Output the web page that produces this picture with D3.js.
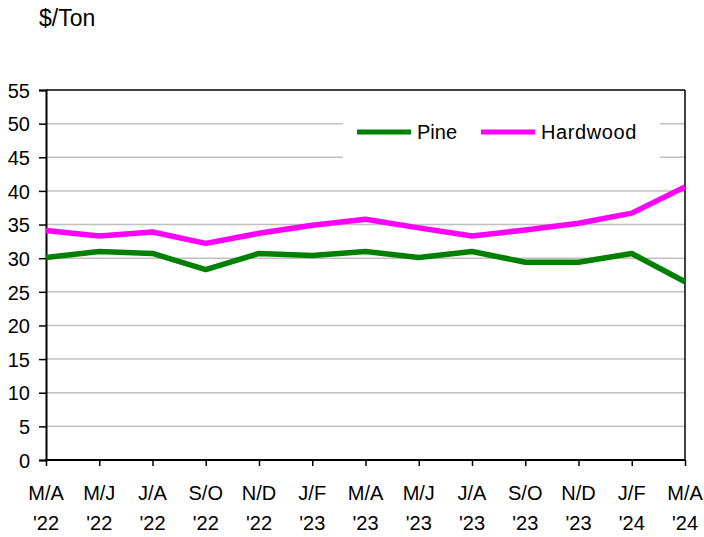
<!DOCTYPE html>
<html><head><meta charset="utf-8">
<script src="https://cdn.jsdelivr.net/npm/d3@7"></script>
<style>body{margin:0;background:#fff}text{font-family:"Liberation Sans",Arial,sans-serif;fill:#000}</style>
</head><body>
<svg id="c" width="704" height="537"></svg>
<script>
const periods = ["M/A","M/J","J/A","S/O","N/D","J/F","M/A","M/J","J/A","S/O","N/D","J/F","M/A"];
const years = ["'22","'22","'22","'22","'22","'23","'23","'23","'23","'23","'23","'24","'24"];
const pine = [30.1, 31.0, 30.7, 28.3, 30.7, 30.4, 31.0, 30.1, 31.0, 29.4, 29.4, 30.7, 26.5];
const hardwood = [34.1, 33.3, 33.9, 32.2, 33.7, 34.9, 35.8, 34.5, 33.3, 34.2, 35.2, 36.7, 40.6];
const yTicks = [0,5,10,15,20,25,30,35,40,45,50,55];
const seriesNames = ["Pine","Hardwood"];
const seriesColors = ["#008000","#ff00ff"];

const svg = d3.select("#c");
const L=46, R=685, T=90, B=460;
const x = d3.scalePoint().domain(d3.range(periods.length)).range([L,R]);
const y = d3.scaleLinear().domain([0,55]).range([B,T]);

svg.append("g").selectAll("line").data(yTicks.filter(d=>d>0&&d<55)).join("line")
  .attr("x1",L).attr("x2",R).attr("y1",d=>y(d)).attr("y2",d=>y(d))
  .attr("stroke","#c0c0c0").attr("stroke-width",1.5);

svg.append("rect").attr("x",343).attr("y",112).attr("width",317).attr("height",50).attr("fill","#fff");

svg.append("line").attr("x1",L).attr("x2",R).attr("y1",T).attr("y2",T).attr("stroke","#000").attr("stroke-width",1.5);
svg.append("line").attr("x1",R).attr("x2",R).attr("y1",T).attr("y2",B).attr("stroke","#000").attr("stroke-width",1.5);

const ya = svg.append("g").attr("transform",`translate(${L},0)`)
  .call(d3.axisLeft(y).tickValues(yTicks).tickSize(7).tickPadding(9));
ya.select(".domain").attr("stroke","#000").attr("stroke-width",2);
ya.selectAll(".tick line").attr("stroke","#000").attr("stroke-width",1.5);
ya.selectAll("text").style("font-size","20px").attr("dy","0.36em");

const xa = svg.append("g").attr("transform",`translate(0,${B})`)
  .call(d3.axisBottom(x).tickSize(6).tickFormat(""));
xa.select(".domain").attr("stroke","#000").attr("stroke-width",2).attr("d",`M${L},0H${R}`);
xa.selectAll(".tick line").attr("stroke","#000").attr("stroke-width",1.5);
const lab = svg.append("g").selectAll("text").data(periods).join("text")
  .attr("text-anchor","middle").style("font-size","20px");
lab.append("tspan").attr("x",(d,i)=>x(i)).attr("y",500).text(d=>d);
lab.append("tspan").attr("x",(d,i)=>x(i)).attr("y",530).text((d,i)=>years[i]);

const line = d3.line().x((d,i)=>x(i)).y(d=>y(d));
[pine, hardwood].forEach((s,k)=>{
  svg.append("path").datum(s).attr("d",line).attr("fill","none")
    .attr("stroke",seriesColors[k]).attr("stroke-width",5.5).attr("stroke-linejoin","round");
});

const lx = [357, 481];
seriesNames.forEach((n,k)=>{
  svg.append("line").attr("x1",lx[k]).attr("x2",lx[k]+54).attr("y1",132).attr("y2",132)
    .attr("stroke",seriesColors[k]).attr("stroke-width",5);
  svg.append("text").attr("x",lx[k]+60).attr("y",139).style("font-size","20px")
    .attr("letter-spacing", k===1 ? "0.6px" : "0px").text(n);
});

svg.append("text").attr("x",39).attr("y",26).style("font-size","23px").text("$/Ton");
</script>
</body></html>
